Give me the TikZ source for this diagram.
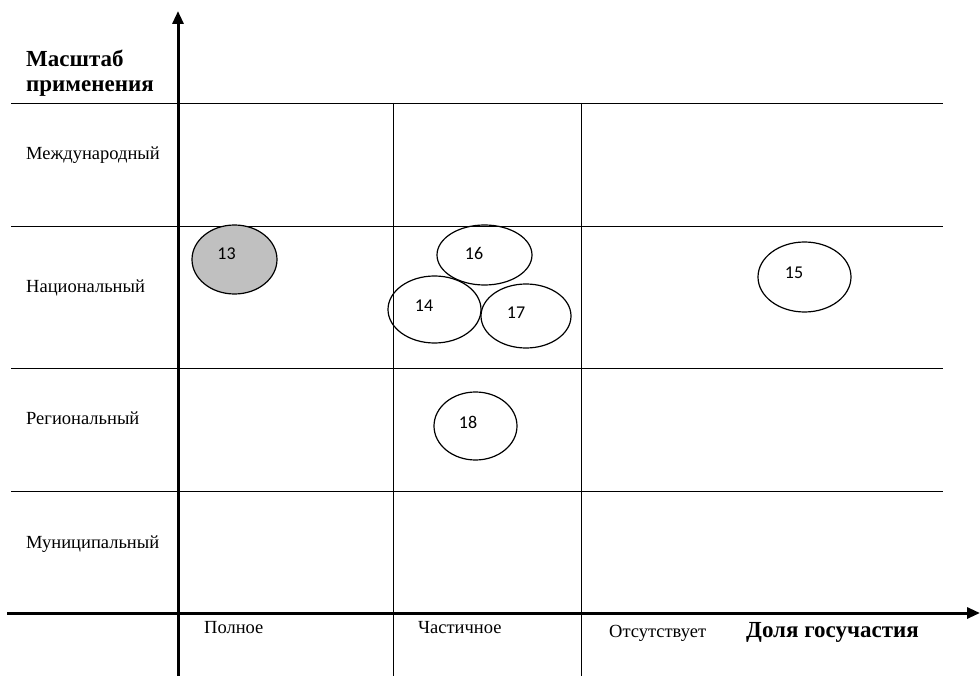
\documentclass[tikz,border=0pt]{standalone}
\usepackage{fontspec}
\setmainfont{Liberation Serif}
\newfontfamily\numfont{Carlito}
\usetikzlibrary{shapes.geometric,arrows.meta}
\begin{document}
\begin{tikzpicture}[x=1pt,y=-1pt,
  grid/.style={line width=0.9pt,black},
  axis/.style={line width=3pt,black,-{Triangle[length=13pt,width=11pt]}},
  oval/.style={ellipse,draw,line width=1.2pt,inner sep=0pt},
  num/.style={font=\numfont\fontsize{18}{20}\selectfont,inner sep=0pt},
  lvl/.style={font=\fontsize{18.5}{21}\selectfont,anchor=base west,inner sep=0pt},
  cat/.style={font=\fontsize{18.5}{21}\selectfont,anchor=base west,inner sep=0pt},
  ttl/.style={font=\bfseries\fontsize{23}{22}\selectfont,inner sep=0pt}]
\useasboundingbox (0,0) rectangle (980,676);
% grid lines
\coordinate (h1a) at (11,103); \coordinate (h1b) at (943,103);
\coordinate (h2a) at (11,226); \coordinate (h2b) at (943,226);
\coordinate (h3a) at (11,368); \coordinate (h3b) at (943,368);
\coordinate (h4a) at (11,491); \coordinate (h4b) at (943,491);
\coordinate (v1a) at (393,103); \coordinate (v1b) at (393,676);
\coordinate (v2a) at (581,103); \coordinate (v2b) at (581,676);
\draw[grid] (h1a) -- (h1b);
\draw[grid] (h2a) -- (h2b);
\draw[grid] (h3a) -- (h3b);
\draw[grid] (h4a) -- (h4b);
\draw[grid] (v1a) -- (v1b);
\draw[grid] (v2a) -- (v2b);
% axes
\coordinate (yb) at (178,676); \coordinate (yt) at (178,11);
\coordinate (xl) at (7,613); \coordinate (xr) at (980,613);
\draw[axis] (yb) -- (yt);
\draw[axis] (xl) -- (xr);
% titles
\node[ttl,anchor=base west] (ytitle1) at (26,67) {Масштаб};
\node[ttl,anchor=base west] (ytitle2) at (26,92) {применения};
\node[ttl,anchor=base west] (xtitle) at (746,637) {Доля госучастия};
% levels
\node[lvl] (l1) at (26,160) {Международный};
\node[lvl] (l2) at (26,293) {Национальный};
\node[lvl] (l3) at (26,424) {Региональный};
\node[lvl] (l4) at (26,548) {Муниципальный};
% categories
\node[cat] (c1) at (204,633) {Полное};
\node[cat] (c2) at (418,633) {Частичное};
\node[cat] (c3) at (609,637) {Отсутствует};
% ovals
\node[oval,fill={rgb,255:red,192;green,192;blue,192},minimum width=85pt,minimum height=69pt] (e13) at (234.5,259.5) {};
\node[oval,minimum width=95pt,minimum height=60pt] (e16) at (484.5,255) {};
\node[oval,minimum width=93pt,minimum height=67pt] (e14) at (434.5,309.5) {};
\node[oval,minimum width=90pt,minimum height=64pt] (e17) at (526,316) {};
\node[oval,minimum width=93pt,minimum height=70pt] (e15) at (804.5,277) {};
\node[oval,minimum width=83pt,minimum height=68pt] (e18) at (475.5,426) {};
\node[num] (n13) at (226.5,253.5) {13};
\node[num] (n16) at (474,253) {16};
\node[num] (n14) at (424,306) {14};
\node[num] (n17) at (516,313) {17};
\node[num] (n15) at (794,273) {15};
\node[num] (n18) at (468,422) {18};
\end{tikzpicture}
\end{document}
